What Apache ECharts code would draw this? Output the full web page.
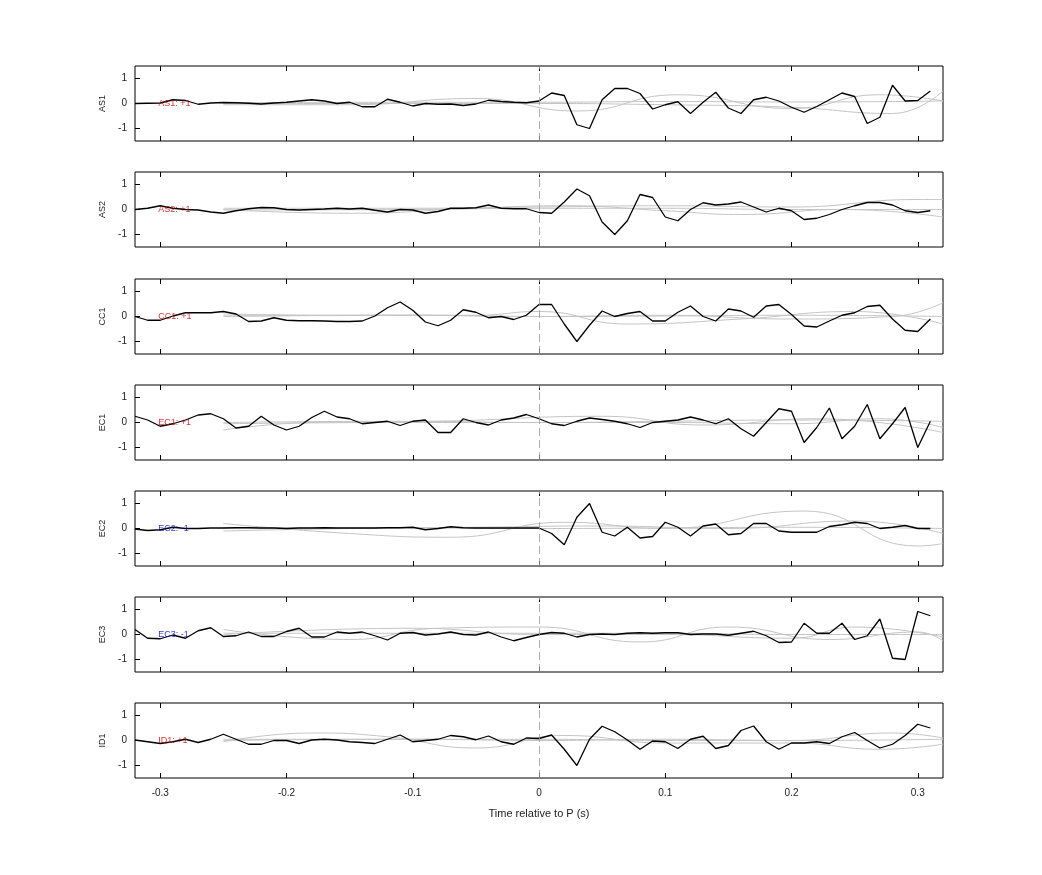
<!DOCTYPE html>
<html>
<head>
<meta charset="UTF-8">
<script src="https://cdn.jsdelivr.net/npm/echarts@6.0.0/dist/echarts.min.js"></script>
</head>
<body style="margin:0;background:#fff">
<div id="main" style="width:1042px;height:875px"></div>
<script>
// station names and the label drawn in each panel
const stations = ['AS1', 'AS2', 'CC1', 'EC1', 'EC2', 'EC3', 'ID1'];
const polarity = ['+1', '+1', '+1', '+1', '-1', '-1', '+1'];
const labelColors = ['#d00000', '#d00000', '#d00000', '#d00000', '#0000d0', '#0000d0', '#d00000'];
const xTicks = [-0.3, -0.2, -0.1, 0, 0.1, 0.2, 0.3];

// black trace: samples every 0.01 s from -0.32 to 0.31
const tStart = -0.32;
const traces = [
  [0,0.01,0.02,0.15,0.12,-0.03,0.02,0.04,0.03,0.01,-0.02,0.02,0.05,0.1,0.15,0.1,0,0.05,-0.13,-0.13,0.17,0.05,-0.1,0,-0.03,-0.02,-0.08,-0.02,0.13,0.08,0.05,0.03,
   0.1,0.42,0.32,-0.85,-1.0,0.15,0.6,0.6,0.4,-0.22,-0.05,0.07,-0.4,0.05,0.45,-0.18,-0.4,0.15,0.25,0.1,-0.15,-0.35,-0.12,0.15,0.42,0.28,-0.8,-0.55,0.73,0.1,0.12,0.5],
  [0,0.05,0.15,0.05,0,-0.02,-0.1,-0.15,-0.05,0.03,0.08,0.07,0,-0.02,0,0.02,0.05,0.02,0.05,-0.03,-0.1,0,-0.02,-0.15,-0.08,0.05,0.05,0.07,0.18,0.05,0.03,0.03,
   -0.12,-0.15,0.3,0.82,0.55,-0.5,-1.0,-0.45,0.6,0.48,-0.3,-0.45,0,0.27,0.18,0.22,0.3,0.1,-0.1,0.05,-0.05,-0.4,-0.35,-0.2,0,0.15,0.28,0.28,0.18,-0.05,-0.12,-0.05],
  [0,-0.15,-0.15,0.02,0.15,0.15,0.15,0.2,0.1,-0.2,-0.18,-0.05,-0.15,-0.17,-0.17,-0.18,-0.2,-0.2,-0.18,0.02,0.35,0.58,0.25,-0.22,-0.37,-0.15,0.27,0.17,-0.05,0,-0.12,0.05,
   0.48,0.48,-0.3,-1.0,-0.35,0.22,0,0.12,0.2,-0.18,-0.18,0.17,0.42,0,-0.18,0.3,0.22,-0.03,0.42,0.48,0.08,-0.38,-0.42,-0.18,0.05,0.15,0.4,0.45,-0.1,-0.55,-0.6,-0.1],
  [0.25,0.1,-0.15,-0.05,0.1,0.3,0.35,0.15,-0.22,-0.15,0.25,-0.1,-0.3,-0.15,0.2,0.45,0.22,0.15,-0.05,0,0.05,-0.12,0.05,0.1,-0.4,-0.4,0.15,0,-0.1,0.1,0.18,0.32,
   0.15,-0.05,-0.12,0.05,0.18,0.12,0.05,-0.05,-0.2,0,0.05,0.1,0.22,0.1,-0.05,0.15,-0.25,-0.55,0,0.55,0.45,-0.8,-0.2,0.58,-0.65,-0.15,0.72,-0.65,-0.05,0.6,-1.0,0.05],
  [-0.02,-0.08,-0.05,0.05,0,0,0.02,0.02,0.03,0.03,0.02,0.02,0,0.02,0.02,0.03,0.02,0.02,0.02,0.02,0.03,0.03,0.05,-0.05,0,0.07,0.03,0.02,0.02,0.02,0.02,0.02,
   0.02,-0.2,-0.65,0.45,1.0,-0.15,-0.3,0.05,-0.38,-0.32,0.25,0.05,-0.3,0.1,0.18,-0.25,-0.2,0.2,0.2,-0.1,-0.15,-0.15,-0.15,0.08,0.15,0.25,0.2,0,0.05,0.12,0,0],
  [0.2,-0.15,-0.17,-0.02,-0.15,0.15,0.27,-0.08,-0.05,0.1,-0.08,-0.08,0.12,0.25,-0.1,-0.1,0.1,0.05,0.1,-0.05,-0.22,0.05,0.08,-0.02,0.02,0.1,0,-0.02,0.1,-0.1,-0.25,-0.12,
   0,0.08,0.05,-0.1,0,0.02,0,0.05,0.07,0.05,0.07,0.07,0,0.02,0.02,-0.03,0.05,0.13,-0.05,-0.32,-0.3,0.45,0.05,0.05,0.45,-0.2,-0.05,0.62,-0.95,-1.0,0.92,0.75],
  [0.02,-0.05,-0.12,-0.05,0.05,-0.08,0.05,0.25,0.05,-0.15,-0.15,0,0,-0.12,0.02,0.05,0.02,-0.05,-0.08,-0.12,0.05,0.22,-0.05,0,0.05,0.2,0.15,0.03,0.18,-0.05,-0.15,0.1,
   0.08,0.22,-0.35,-1.0,0.05,0.57,0.35,0.02,-0.35,-0.02,-0.05,-0.32,0.05,0.17,-0.32,-0.2,0.4,0.58,-0.05,-0.35,-0.1,-0.1,-0.05,-0.12,0.15,0.32,0,-0.3,-0.15,0.2,0.65,0.5]
];

// grey comparison traces: [time, value] knots, drawn smoothed
const greyTraces = [
  [
    [[-0.25,0.03],[-0.1,0.05],[0,0.05],[0.1,0.08],[0.2,0.06],[0.32,0.1]],
    [[-0.25,-0.05],[-0.15,-0.05],[-0.05,0.2],[0.03,-0.3],[0.11,0.35],[0.2,-0.2],[0.27,0.35],[0.32,0.1]],
    [[-0.25,0],[-0.1,0],[0,0],[0.1,-0.05],[0.2,-0.15],[0.28,-0.4],[0.32,0.5]]
  ],
  [
    [[-0.25,-0.02],[-0.1,0],[0,0.05],[0.1,0.05],[0.2,0],[0.32,0]],
    [[-0.25,0],[-0.15,-0.15],[-0.05,0.05],[0.02,0.15],[0.1,-0.05],[0.16,-0.2],[0.24,0],[0.32,-0.3]],
    [[-0.25,0.05],[-0.1,0.05],[0,0.1],[0.1,0.15],[0.2,0.1],[0.3,0.4],[0.32,0.4]]
  ],
  [
    [[-0.25,0.02],[-0.1,0.05],[0,0],[0.1,0.02],[0.2,0.05],[0.32,0]],
    [[-0.25,0.1],[-0.15,0.05],[-0.05,0.05],[0.0,0.2],[0.07,-0.3],[0.16,-0.1],[0.25,0.2],[0.32,-0.3]],
    [[-0.25,0],[-0.1,0.05],[0,0],[0.1,0.05],[0.2,-0.1],[0.28,0],[0.32,0.55]]
  ],
  [
    [[-0.25,-0.05],[-0.1,0],[0,0],[0.1,0.05],[0.2,0.1],[0.32,0.05]],
    [[-0.25,-0.3],[-0.18,0],[-0.08,0.05],[0.05,0.25],[0.13,-0.1],[0.22,0.15],[0.32,-0.4]],
    [[-0.25,0],[-0.1,0.05],[0,0],[0.1,0],[0.2,-0.05],[0.27,0.15],[0.32,-0.2]]
  ],
  [
    [[-0.25,0.02],[-0.1,0.02],[0,0],[0.1,0.02],[0.2,0.05],[0.32,0]],
    [[-0.25,0.2],[-0.15,-0.2],[-0.07,-0.35],[0.02,0.25],[0.1,0],[0.21,0.7],[0.3,-0.7],[0.32,-0.6]],
    [[-0.25,-0.1],[-0.15,0],[-0.05,0.05],[0.05,0.1],[0.15,0],[0.25,0.3],[0.32,-0.2]]
  ],
  [
    [[-0.25,0.05],[-0.1,0.05],[0,0.05],[0.1,0.05],[0.2,0],[0.32,0]],
    [[-0.25,0.2],[-0.15,-0.2],[-0.08,0.25],[0,0.3],[0.08,-0.3],[0.15,0.3],[0.23,-0.2],[0.3,0.1],[0.32,-0.25]],
    [[-0.25,0],[-0.1,0.25],[0,0],[0.1,0],[0.2,-0.15],[0.25,0.3],[0.32,-0.1]]
  ],
  [
    [[-0.25,0],[-0.1,0.05],[0,0.05],[0.1,0],[0.2,0],[0.32,0.05]],
    [[-0.25,-0.05],[-0.18,0.3],[-0.12,0.15],[-0.05,-0.3],[0.02,0.2],[0.1,-0.1],[0.2,-0.1],[0.27,-0.35],[0.32,-0.15]],
    [[-0.25,0.05],[-0.1,0.05],[0,0],[0.1,0.05],[0.2,0],[0.28,0.3],[0.32,0.1]]
  ]
];

const panelTops = [66, 172, 279, 385, 491, 597, 703];
const panelH = 75;
const font = 'Liberation Sans';

const chart = echarts.init(document.getElementById('main'));
const grid = [], xAxis = [], yAxis = [], series = [];

stations.forEach((name, i) => {
  const last = i === stations.length - 1;
  grid.push({ left: 135, width: 808, top: panelTops[i], height: panelH, show: true, borderColor: '#000', borderWidth: 1 });
  xAxis.push({
    gridIndex: i, type: 'value', min: -0.32, max: 0.32,
    axisLine: { show: false, onZero: false }, splitLine: { show: false },
    axisTick: { inside: true, length: 5, lineStyle: { color: '#000' }, customValues: xTicks },
    axisLabel: { show: last, customValues: xTicks, color: '#222', fontFamily: font, fontSize: 10, margin: 10,
      formatter: v => String(Math.round(v * 10) / 10) },
    name: last ? 'Time relative to P (s)' : '', nameLocation: 'middle', nameGap: 30,
    nameTextStyle: { color: '#222', fontFamily: font, fontSize: 11 }
  });
  xAxis.push({
    gridIndex: i, type: 'value', min: -0.32, max: 0.32, position: 'top',
    axisLine: { show: false, onZero: false }, splitLine: { show: false }, axisLabel: { show: false },
    axisTick: { inside: true, length: 5, lineStyle: { color: '#000' }, customValues: xTicks }
  });
  yAxis.push({
    gridIndex: i, type: 'value', min: -1.5, max: 1.5, position: 'left',
    axisLine: { show: false, onZero: false }, splitLine: { show: false },
    axisTick: { inside: true, length: 5, lineStyle: { color: '#000' }, customValues: [-1, 0, 1] },
    axisLabel: { customValues: [-1, 0, 1], color: '#222', fontFamily: font, fontSize: 10, margin: 8 },
    name: name, nameLocation: 'middle', nameGap: 26, nameRotate: 90,
    nameTextStyle: { color: '#222', fontFamily: font, fontSize: 9 }
  });

  greyTraces[i].forEach(g => {
    series.push({ type: 'line', xAxisIndex: 2 * i, yAxisIndex: i, data: g, smooth: 0.5, symbol: 'none',
      silent: true, lineStyle: { color: '#c4c4c4', width: 1 }, z: 1 });
  });
  series.push({
    type: 'line', xAxisIndex: 2 * i, yAxisIndex: i, symbol: 'none', z: 3,
    data: traces[i].map((v, k) => [tStart + k * 0.01, v]),
    lineStyle: { color: '#000', width: 1.3 },
    markLine: { silent: true, symbol: 'none', label: { show: false },
      lineStyle: { color: '#999', type: [8, 4], width: 0.8 }, data: [{ xAxis: 0 }] }
  });
  series.push({
    type: 'scatter', xAxisIndex: 2 * i, yAxisIndex: i, symbolSize: 0, z: 4,
    data: [[-0.3, 0]],
    label: { show: true, position: 'right', distance: -2, formatter: name + ': ' + polarity[i],
      color: labelColors[i], fontFamily: font, fontSize: 9 }
  });
});

chart.setOption({ animation: false, grid, xAxis, yAxis, series });
</script>
</body>
</html>
